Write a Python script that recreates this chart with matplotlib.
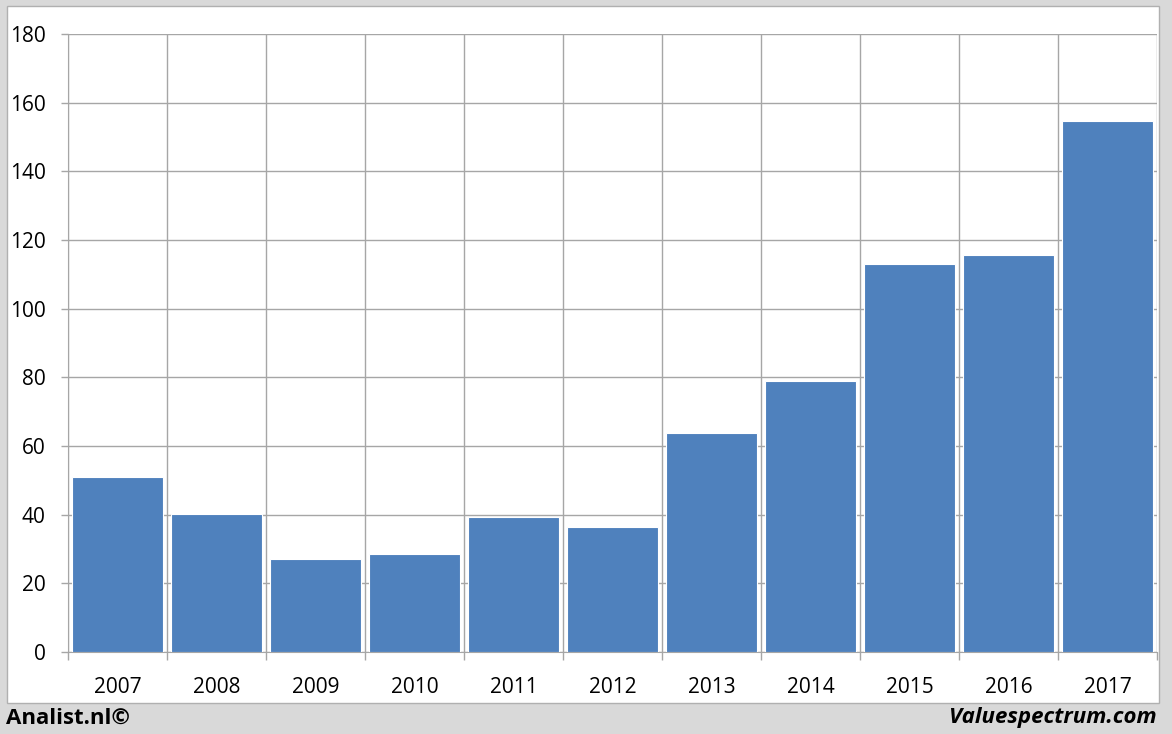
import matplotlib
matplotlib.use("Agg")
import matplotlib.pyplot as plt
from matplotlib.patches import Rectangle

years = ["2007", "2008", "2009", "2010", "2011", "2012", "2013", "2014", "2015", "2016", "2017"]
values = [51.0, 40.3, 27.2, 28.6, 39.4, 36.5, 63.8, 79.0, 113.1, 115.7, 154.8]
yticks = [0, 20, 40, 60, 80, 100, 120, 140, 160, 180]

W, H = 1172, 734
fig = plt.figure(figsize=(W / 100, H / 100), dpi=100)
fig.patch.set_facecolor("#d9d9d9")

# white panel
panel = Rectangle((7 / W, 1 - 703 / H), (1159 - 7) / W, (703 - 6) / H,
                  transform=fig.transFigure, facecolor="white",
                  edgecolor="#b0b0b0", linewidth=1, zorder=-10)
fig.patches.append(panel)

ax = fig.add_axes([68 / W, 1 - 652 / H, (1157 - 68) / W, (652 - 34) / H])
ax.set_facecolor("white")
n = len(years)
x = list(range(n))
ax.bar(x, values, width=0.92, color="#4f81bd", edgecolor="white", linewidth=0.8, zorder=3)
ax.set_xlim(-0.5, n - 0.5)
ax.set_ylim(0, 180)
ax.set_yticks(yticks)
ax.set_yticklabels([str(v) for v in yticks])
ax.set_xticks(x)
ax.set_xticklabels(years)
ax.set_xticks([i - 0.5 for i in range(n + 1)], minor=True)

ax.grid(axis="y", color="#a6a6a6", linewidth=1, zorder=0)
ax.grid(axis="x", which="minor", color="#a6a6a6", linewidth=1, zorder=0)
ax.set_axisbelow(True)
ax.tick_params(axis="x", which="major", length=0, pad=18, labelsize=15)
ax.tick_params(axis="x", which="minor", length=6, color="#a6a6a6", width=1)
ax.tick_params(axis="y", length=5, color="#a6a6a6", width=1, pad=11, labelsize=15)
for lab in ax.get_xticklabels() + ax.get_yticklabels():
    lab.set_fontfamily("Open Sans")
for s in ["top", "right"]:
    ax.spines[s].set_visible(False)
ax.spines["left"].set_color("#a6a6a6")
ax.spines["bottom"].set_color("#a6a6a6")

fig.text(6 / W, 1 - 718 / H, "Analist.nl©", fontsize=16, fontweight="bold",
         fontfamily="Open Sans", va="center", ha="left")
fig.text(1157 / W, 1 - 718 / H, "Valuespectrum.com", fontsize=16, fontweight="bold",
         fontstyle="italic", fontfamily="Open Sans", va="center", ha="right")

fig.savefig("out.png", dpi=100, facecolor=fig.get_facecolor())
